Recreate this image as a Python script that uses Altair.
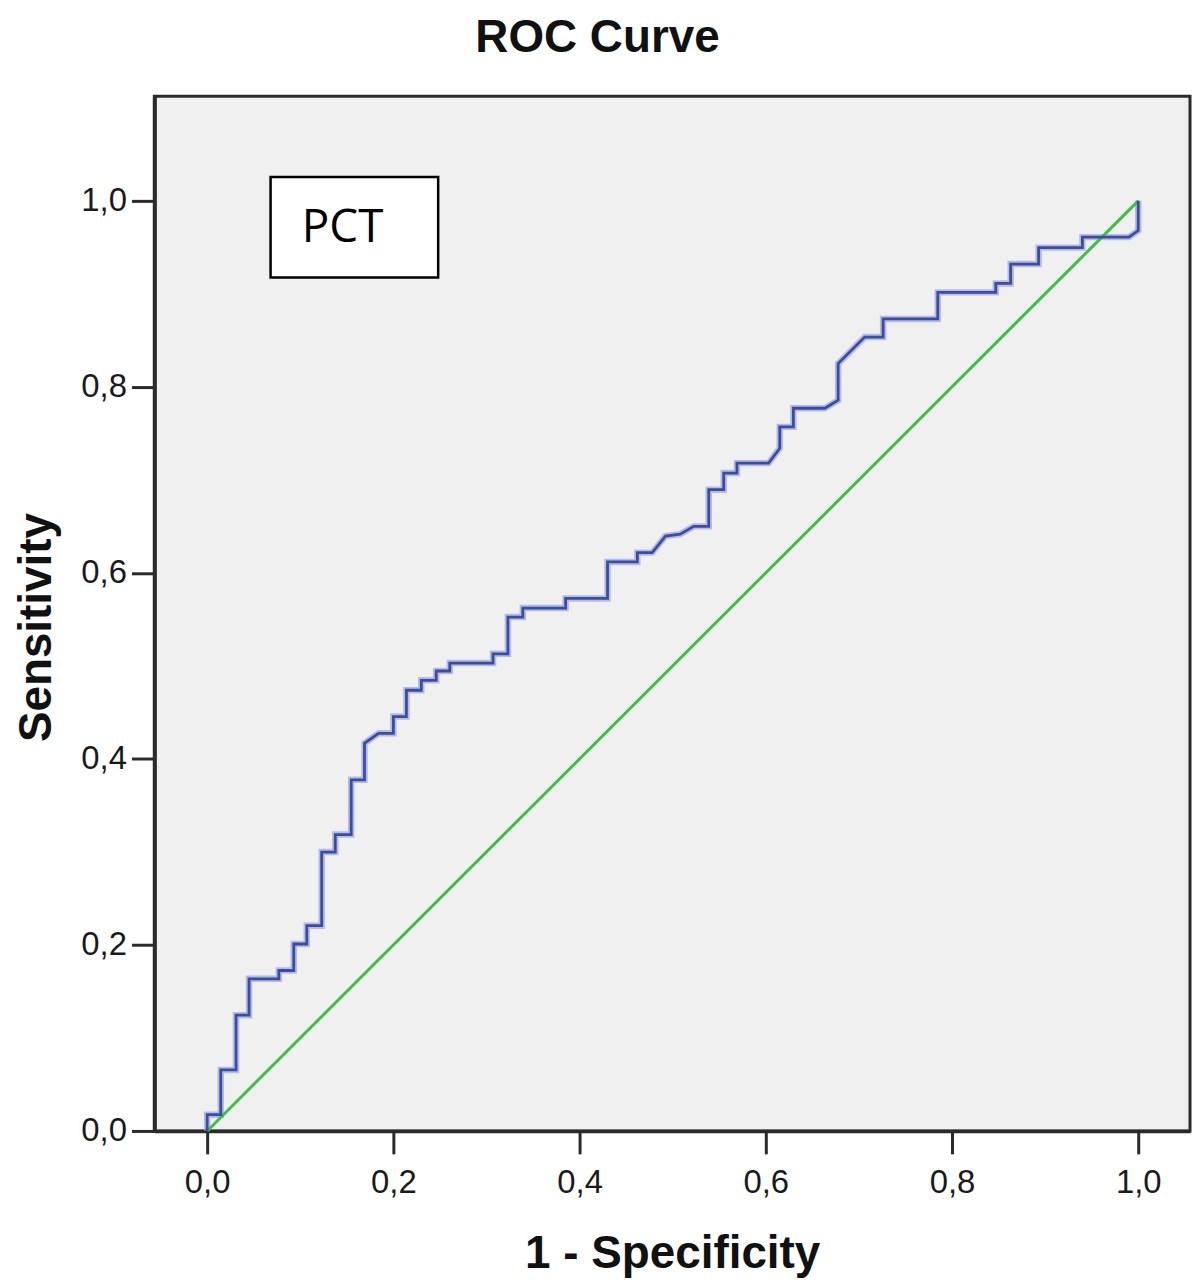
import altair as alt
import pandas as pd

# ROC step curve vertices (1 - specificity, sensitivity)
fpr = [0.0, 0.0, 0.0146, 0.0146, 0.031, 0.031, 0.045, 0.045, 0.077, 0.077,
       0.093, 0.093, 0.107, 0.107, 0.123, 0.123, 0.1376, 0.1376, 0.1547, 0.1547,
       0.169, 0.169, 0.184, 0.2, 0.2, 0.214, 0.214, 0.230, 0.230, 0.246,
       0.246, 0.2606, 0.2606, 0.307, 0.307, 0.323, 0.323, 0.339, 0.339, 0.385,
       0.385, 0.43, 0.43, 0.462, 0.462, 0.478, 0.4923, 0.508, 0.5226, 0.5387,
       0.5387, 0.5548, 0.5548, 0.569, 0.569, 0.603, 0.615, 0.615, 0.6296, 0.6296,
       0.6634, 0.6777, 0.6777, 0.7062, 0.726, 0.726, 0.7847, 0.7847, 0.847, 0.847,
       0.863, 0.863, 0.893, 0.893, 0.94, 0.94, 0.99, 1.0, 1.0]
tpr = [0.0, 0.0175, 0.0175, 0.0656, 0.0656, 0.1245, 0.1245, 0.1636, 0.1636, 0.1725,
       0.1725, 0.201, 0.201, 0.2207, 0.2207, 0.2998, 0.2998, 0.3187, 0.3187, 0.3775,
       0.3775, 0.4168, 0.4275, 0.4275, 0.4455, 0.4455, 0.4738, 0.4738, 0.4845, 0.4845,
       0.4945, 0.4945, 0.503, 0.503, 0.513, 0.513, 0.5525, 0.5525, 0.5622, 0.5622,
       0.5725, 0.5725, 0.6118, 0.6118, 0.6218, 0.6218, 0.6396, 0.6417, 0.650, 0.650,
       0.6895, 0.6895, 0.7073, 0.7073, 0.718, 0.718, 0.734, 0.757, 0.757, 0.777,
       0.777, 0.7857, 0.825, 0.8535, 0.8535, 0.873, 0.873, 0.9016, 0.9016, 0.9112,
       0.9112, 0.932, 0.932, 0.9497, 0.9497, 0.961, 0.961, 0.968, 1.0]

ref_x = [0.0, 1.0]
ref_y = [0.0, 1.0]

tick_values = [0.0, 0.2, 0.4, 0.6, 0.8, 1.0]

chart_title = ["ROC Curve"]
legend_text = ["PCT"]
legend_box_x = [0.0681, 0.2481]
legend_box_y = [0.9176, 1.0257]
legend_text_pos = [0.1016, 0.956]

x_domain = [-0.0567, 1.0556]
y_domain = [0.0, 1.1124]

roc = pd.DataFrame({"fpr": fpr, "tpr": tpr, "i": list(range(len(fpr)))})
ref = pd.DataFrame({"fpr": ref_x, "tpr": ref_y, "i": [0, 1]})
box = pd.DataFrame({"x1": [legend_box_x[0]], "x2": [legend_box_x[1]],
                    "y1": [legend_box_y[0]], "y2": [legend_box_y[1]]})
lab = pd.DataFrame({"x": [legend_text_pos[0]], "y": [legend_text_pos[1]], "t": legend_text})
ttl = pd.DataFrame({"t": chart_title})

label_expr = "replace(format(datum.value, '.1f'), '.', ',')"

xscale = alt.Scale(domain=x_domain, nice=False, zero=False)
yscale = alt.Scale(domain=y_domain, nice=False, zero=False)

xaxis = alt.Axis(values=tick_values, labelExpr=label_expr, title="1 - Specificity",
                 grid=False, tickSize=23, tickWidth=3, tickColor="#2a2a2a",
                 domainColor="#2a2a2a", domainWidth=3.5,
                 labelFont="Liberation Sans", labelFontSize=33, labelColor="#1a1a1a",
                 labelBaseline="alphabetic", labelPadding=39,
                 titleFont="Liberation Sans", titleFontSize=46, titleFontWeight="bold",
                 titleColor="#111111", titleBaseline="alphabetic", titleY=137)
yaxis = alt.Axis(values=tick_values, labelExpr=label_expr, title="Sensitivity",
                 grid=False, tickSize=23, tickWidth=3, tickColor="#2a2a2a",
                 domainColor="#2a2a2a", domainWidth=4,
                 labelFont="Liberation Sans", labelFontSize=33, labelColor="#1a1a1a",
                 labelPadding=5, labelBaseline="middle",
                 titleFont="Liberation Sans", titleFontSize=46, titleFontWeight="bold",
                 titleColor="#111111", titleAngle=270, titleBaseline="alphabetic",
                 titleAlign="center", titleX=-104, titleY=533)

base_roc = alt.Chart(roc)

halo = base_roc.mark_line(color="#8d99d2", strokeWidth=6.5, opacity=0.6).encode(
    x=alt.X("fpr:Q", scale=xscale, axis=xaxis),
    y=alt.Y("tpr:Q", scale=yscale, axis=yaxis),
    order="i:Q",
)
core = base_roc.mark_line(color="#3b4ca6", strokeWidth=2.8).encode(
    x=alt.X("fpr:Q", scale=xscale),
    y=alt.Y("tpr:Q", scale=yscale),
    order="i:Q",
)
diag = alt.Chart(ref).mark_line(color="#3fbf48", strokeWidth=3).encode(
    x=alt.X("fpr:Q", scale=xscale),
    y=alt.Y("tpr:Q", scale=yscale),
    order="i:Q",
)
rect = alt.Chart(box).mark_rect(fill="white", stroke="black", strokeWidth=2.5).encode(
    x=alt.X("x1:Q", scale=xscale), x2="x2:Q",
    y=alt.Y("y1:Q", scale=yscale), y2="y2:Q",
)
text = alt.Chart(lab).mark_text(font="Open Sans", fontSize=46, align="left",
                                baseline="alphabetic", color="black").encode(
    x=alt.X("x:Q", scale=xscale),
    y=alt.Y("y:Q", scale=yscale),
    text="t:N",
)
title_mark = alt.Chart(ttl).mark_text(font="Liberation Sans", fontSize=46, fontWeight="bold",
                                      align="center", baseline="alphabetic",
                                      color="#111111").encode(
    x=alt.value(445),
    y=alt.value(-45),
    text="t:N",
)

chart = alt.layer(halo, diag, core, rect, text, title_mark).properties(
    width=1040,
    height=1039,
    autosize=alt.AutoSizeParams(type="none"),
    padding={"left": 147, "top": 86, "right": 2, "bottom": 146},
    background="white",
).configure_view(
    fill="#f0f0f0", stroke="#2a2a2a", strokeWidth=3
)

chart.save("out.html", embed_options={"renderer": "svg", "actions": False})
